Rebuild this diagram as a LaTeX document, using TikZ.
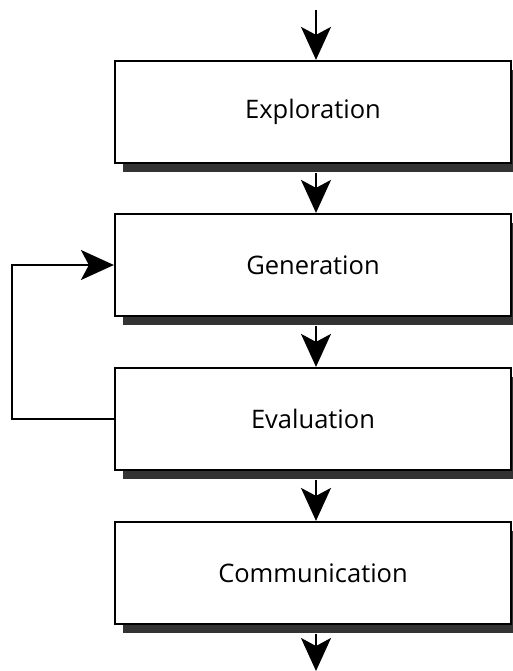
\documentclass[tikz,border=0pt]{standalone}
\usepackage{fontspec}
\setmainfont{Open Sans}
\usetikzlibrary{arrows.meta,shadows}
\definecolor{shadowc}{gray}{0.2}
\begin{document}
\begin{tikzpicture}[x=1pt,y=-1pt,
  stage/.style={draw=black, line width=2.2pt, fill=white,
    minimum width=396pt, minimum height=102pt, inner sep=0pt,
    font=\fontsize{25.5}{30}\selectfont,
    drop shadow={shadow xshift=8pt, shadow yshift=-9pt, fill=shadowc, opacity=1}},
  flow/.style={line width=2pt, -{Stealth[length=33pt,width=30pt,inset=8pt]}},
  ]
\useasboundingbox (0,0) rectangle (513,671);
\node[stage] (X) at (313,112) {Exploration};
\node[stage] (G) at (313,265) {Generation};
\node[stage] (V) at (313,419) {Evaluation};
\node[stage] (C) at (313,573) {Communication};
\coordinate (in) at (316,10);
\coordinate (out) at (316,671);
\draw[flow] (in) -- ([xshift=3pt]X.north);
\draw[flow] ([xshift=3pt,yshift=-9pt]X.south) -- ([xshift=3pt]G.north);
\draw[flow] ([xshift=3pt,yshift=-9pt]G.south) -- ([xshift=3pt]V.north);
\draw[flow] ([xshift=3pt,yshift=-9pt]V.south) -- ([xshift=3pt]C.north);
\draw[flow] ([xshift=3pt,yshift=-9pt]C.south) -- (out);
\draw[flow] (V.west) -- ++(-102,0) |- (G.west);
\end{tikzpicture}
\end{document}
